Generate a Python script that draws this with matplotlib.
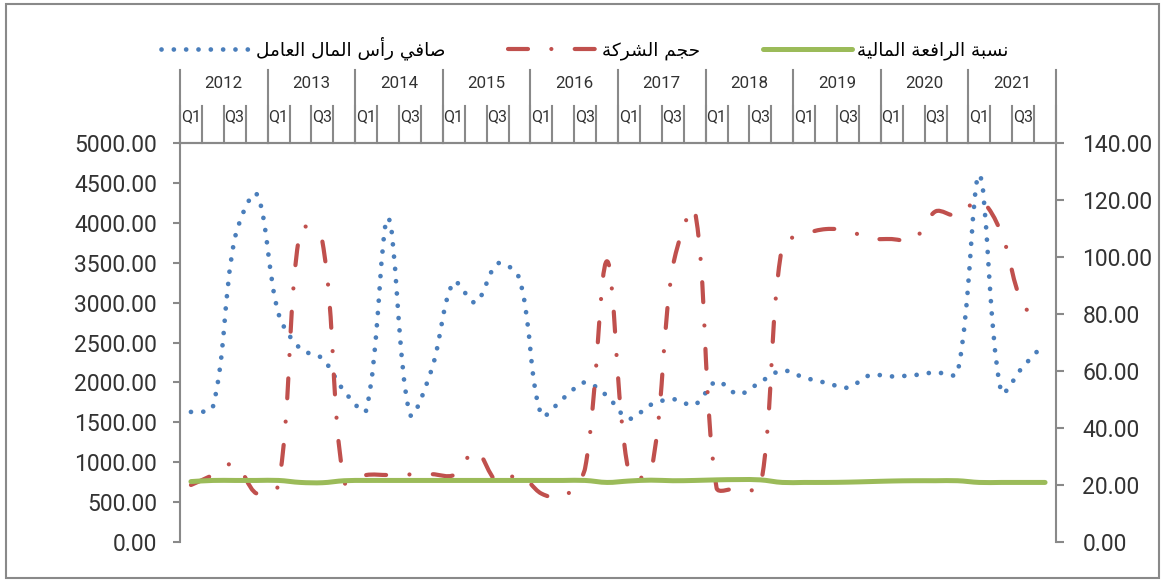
import numpy as np
import matplotlib
matplotlib.use("Agg")
import matplotlib.pyplot as plt
from matplotlib.path import Path
from matplotlib.patches import PathPatch, Rectangle
from matplotlib.lines import Line2D
from matplotlib.transforms import blended_transform_factory
from matplotlib.ticker import FormatStrFormatter

# quarterly data 2012-2021
years = [str(y) for y in range(2012, 2022)]
quarters = ["Q1", "Q2", "Q3", "Q4"]

working_capital = [1630, 1690, 3800, 4360, 2860, 2420, 2300, 1890, 1650, 4060,
                   1600, 2170, 3260, 3000, 3490, 3300, 1590, 1800, 2000, 1830,
                   1545, 1720, 1790, 1720, 2013, 1850, 2005, 2150, 2060, 1995,
                   1935, 2090, 2075, 2090, 2126, 2120, 4600, 1880, 2200, 2490]

company_size = [20.0, 23.5, 27.5, 17.0, 20.0, 110.0, 105.5, 21.0, 23.5, 23.5,
                23.7, 23.8, 23.5, 32.0, 21.0, 23.6, 17.0, 15.8, 26.0, 98.5,
                24.0, 24.5, 96.5, 116.5, 19.0, 19.0, 19.0, 104.0, 108.0, 109.8,
                109.2, 106.5, 106.3, 106.0, 116.0, 114.5, 120.0, 108.5, 83.0, 78.0]

leverage = [21.2, 21.6, 21.6, 21.6, 21.6, 20.9, 20.8, 21.5, 21.6, 21.6,
            21.6, 21.6, 21.6, 21.6, 21.6, 21.6, 21.6, 21.6, 21.6, 20.9,
            21.4, 21.7, 21.5, 21.6, 21.8, 21.9, 21.8, 20.9, 20.9, 20.9,
            21.0, 21.2, 21.4, 21.5, 21.5, 21.5, 20.9, 20.9, 20.9, 20.9]

label_wc = "صافي رأس المال العامل"
label_size = "حجم الشركة"
label_lev = "نسبة الرافعة المالية"

BLUE = "#4A7EBB"
RED = "#C0504D"
GREEN = "#9BBB59"
GRAY = "#898989"
TXT = "#333333"

# contextual forms for the letters used in the labels: isolated, final, initial, medial
FORMS = {
    "ا": (0xFE8D, 0xFE8E, None, None),
    "أ": (0xFE83, 0xFE84, None, None),
    "ب": (0xFE8F, 0xFE90, 0xFE91, 0xFE92),
    "ة": (0xFE93, 0xFE94, None, None),
    "ت": (0xFE95, 0xFE96, 0xFE97, 0xFE98),
    "ج": (0xFE9D, 0xFE9E, 0xFE9F, 0xFEA0),
    "ح": (0xFEA1, 0xFEA2, 0xFEA3, 0xFEA4),
    "ر": (0xFEAD, 0xFEAE, None, None),
    "س": (0xFEB1, 0xFEB2, 0xFEB3, 0xFEB4),
    "ش": (0xFEB5, 0xFEB6, 0xFEB7, 0xFEB8),
    "ص": (0xFEB9, 0xFEBA, 0xFEBB, 0xFEBC),
    "ع": (0xFEC9, 0xFECA, 0xFECB, 0xFECC),
    "ف": (0xFED1, 0xFED2, 0xFED3, 0xFED4),
    "ك": (0xFED9, 0xFEDA, 0xFEDB, 0xFEDC),
    "ل": (0xFEDD, 0xFEDE, 0xFEDF, 0xFEE0),
    "م": (0xFEE1, 0xFEE2, 0xFEE3, 0xFEE4),
    "ن": (0xFEE5, 0xFEE6, 0xFEE7, 0xFEE8),
    "ي": (0xFEF1, 0xFEF2, 0xFEF3, 0xFEF4),
}


def shape_ar(text):
    # pick joined letter forms and flip to visual order (matplotlib draws left to right)
    out = []
    for i, ch in enumerate(text):
        if ch not in FORMS:
            out.append(ch)
            continue
        iso, fin, ini, med = FORMS[ch]
        prev = text[i - 1] if i > 0 else ""
        nxt = text[i + 1] if i + 1 < len(text) else ""
        join_prev = prev in FORMS and FORMS[prev][2] is not None
        join_next = ini is not None and nxt in FORMS
        if join_prev and join_next:
            c = med
        elif join_prev:
            c = fin
        elif join_next:
            c = ini
        else:
            c = iso
        out.append(chr(c))
    return "".join(reversed(out))


def smooth_path(a, y):
    # smoothed line through every point; control arms scaled by the
    # neighbouring segment lengths on screen, which keeps flat runs flat
    x = np.arange(len(y), dtype=float)
    p = a.transData.transform(np.column_stack([x, np.asarray(y, dtype=float)]))
    n = len(p)
    d = np.hypot(*np.diff(p, axis=0).T)
    c_out = np.zeros_like(p)
    c_in = np.zeros_like(p)
    for i in range(n):
        if i == 0:
            c_out[i] = p[0] + (p[1] - p[0]) / 6.0
            continue
        if i == n - 1:
            c_in[i] = p[i] - (p[i] - p[i - 1]) / 6.0
            continue
        t = p[i + 1] - p[i - 1]
        s = d[i - 1] + d[i]
        c_out[i] = p[i] + t * d[i] / s / 3.0
        c_in[i] = p[i] - t * d[i - 1] / s / 3.0
    verts = [p[0]]
    codes = [Path.MOVETO]
    for i in range(n - 1):
        verts += [c_out[i], c_in[i + 1], p[i + 1]]
        codes += [Path.CURVE4] * 3
    verts = a.transData.inverted().transform(np.array(verts))
    return Path(verts, codes)


fig = plt.figure(figsize=(11.65, 5.81), dpi=100)
W, H = 1165, 581
ax = fig.add_axes([180 / W, 1 - 542 / H, 876 / W, 399 / H])
ax2 = ax.twinx()

n = len(working_capital)
ax.set_xlim(-0.5, n - 0.5)
ax2.set_xlim(-0.5, n - 0.5)
ax.set_ylim(0, 5000)
ax2.set_ylim(0, 140)
ax.set_yticks(np.arange(0, 5001, 500))
ax2.set_yticks(np.arange(0, 141, 20))
ax.yaxis.set_major_formatter(FormatStrFormatter("%.2f"))
ax2.yaxis.set_major_formatter(FormatStrFormatter("%.2f"))

dot_style = dict(lw=3.4, ls=(0, (0.01, 2.6)))
dashdot_style = dict(lw=3.0, ls=(0, (4.8, 5.6, 0.01, 5.6)))

ax.add_patch(PathPatch(smooth_path(ax, working_capital), fill=False, ec=BLUE,
                       capstyle="round", joinstyle="round", zorder=3, **dot_style))
ax2.add_patch(PathPatch(smooth_path(ax2, company_size), fill=False, ec=RED,
                        capstyle="round", joinstyle="round", zorder=3, **dashdot_style))
ax2.add_patch(PathPatch(smooth_path(ax2, leverage), fill=False, ec=GREEN, lw=3.6,
                        capstyle="round", joinstyle="round", zorder=4))

for a in (ax, ax2):
    a.spines["bottom"].set_visible(False)
    for s in ("left", "right", "top"):
        a.spines[s].set_color(GRAY)
        a.spines[s].set_linewidth(1.5)
    a.set_xticks([])
ax.spines["right"].set_visible(False)
ax2.spines["left"].set_visible(False)
ax.tick_params(axis="y", direction="out", length=5, width=1.5, color=GRAY,
               pad=11.5, labelsize=16.5, labelcolor=TXT)
ax2.tick_params(axis="y", direction="out", length=6, width=1.5, color=GRAY,
                pad=13, labelsize=16.5, labelcolor=TXT)
for lab in ax.get_yticklabels() + ax2.get_yticklabels():
    lab.set_fontfamily("Roboto")

# two-level category axis along the top: quarters, then years
tr = blended_transform_factory(ax.transData, ax.transAxes)
y_year_top = (542 - 70) / 399
y_q_top = (542 - 106) / 399
for i in range(n + 1):
    ax.add_line(Line2D([i - 0.5, i - 0.5], [1.0, y_q_top], transform=tr,
                       color=GRAY, lw=1.5, clip_on=False))
for k in range(len(years) + 1):
    ax.add_line(Line2D([4 * k - 0.5, 4 * k - 0.5], [1.0, y_year_top], transform=tr,
                       color=GRAY, lw=1.5, clip_on=False))
for k, yr in enumerate(years):
    ax.text(4 * k + 1.5, (542 - 83) / 399, yr, transform=tr, ha="center", va="center",
            fontsize=12.2, family="Roboto", color=TXT)
    for j, q in enumerate(quarters):
        if j % 2 == 0:
            ax.text(4 * k + j - 0.47, (542 - 117) / 399, q, transform=tr, ha="left",
                    va="center", fontsize=11.5, family="Roboto", color=TXT)

handles = [
    Line2D([], [], color=BLUE, dash_capstyle="round", **dot_style),
    Line2D([], [], color=RED, dash_capstyle="round", **dashdot_style),
    Line2D([], [], color=GREEN, lw=3.6, solid_capstyle="round"),
]
labels = [shape_ar(label_wc), shape_ar(label_size), shape_ar(label_lev)]
fig.legend(handles, labels, loc="center", bbox_to_anchor=(585 / W, 1 - 48 / H),
           ncol=3, frameon=False, handlelength=4.8, handletextpad=0.3,
           columnspacing=3.4, prop={"family": "DejaVu Sans", "size": 13.3})

fig.patches.append(Rectangle((6 / W, 3 / H), (1159 - 6) / W, (577 - 3) / H,
                             transform=fig.transFigure, fill=False, ec=GRAY, lw=1.5))

fig.savefig("out.png", dpi=100)
